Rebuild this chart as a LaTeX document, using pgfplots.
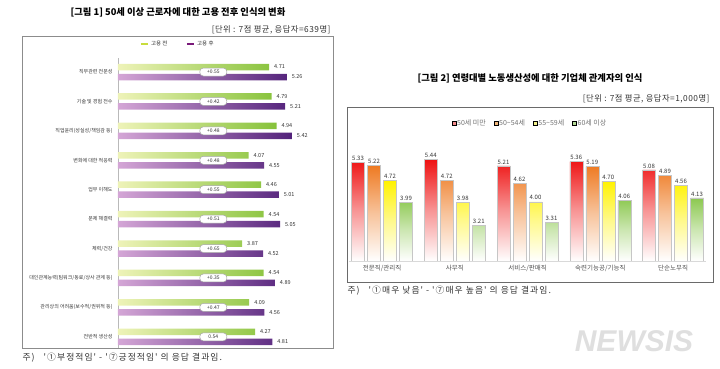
\documentclass[border=0pt]{standalone}
\usepackage{fontspec}
\setmainfont{Noto Sans CJK KR}
\newfontfamily\spaced[LetterSpace=6]{Noto Sans CJK KR}
\newfontfamily\spacedw[LetterSpace=12]{Noto Sans CJK KR}
\newfontfamily\wmfont{Liberation Sans}
\usepackage{pgfplots}
\pgfplotsset{compat=1.18}
\usepackage{pgfplotstable}

\definecolor{txt}{HTML}{333333}
\definecolor{boxA}{HTML}{8C8C8C}
\definecolor{boxB}{HTML}{6A6A6A}
\definecolor{gL}{HTML}{EEF3B8}
\definecolor{gR}{HTML}{86C23A}
\definecolor{pL}{HTML}{D4A6D6}
\definecolor{pR}{HTML}{52217A}
\definecolor{gLeg}{HTML}{C8DC3C}
\definecolor{pLeg}{HTML}{7A1A7A}
\definecolor{cR}{HTML}{EE1111}
\definecolor{cO}{HTML}{EE7A22}
\definecolor{cY}{HTML}{FFF200}
\definecolor{cG}{HTML}{8CC850}
\definecolor{lR}{HTML}{F28A8A}
\definecolor{lO}{HTML}{F2B77A}
\definecolor{lY}{HTML}{F2F08A}
\definecolor{lG}{HTML}{B4DA96}

\pgfplotstableread{
y before after diff
9 4.71 5.26 +0.55
8 4.79 5.21 +0.42
7 4.94 5.42 +0.48
6 4.07 4.55 +0.48
5 4.46 5.01 +0.55
4 4.54 5.05 +0.51
3 3.87 4.52 +0.65
2 4.54 4.89 +0.35
1 4.09 4.56 +0.47
0 4.27 4.81 0.54
}\tableA

\pgfplotstableread{
x a b c d
0 5.33 5.22 4.72 3.99
1 5.44 4.72 3.98 3.21
2 5.21 4.62 4.00 3.31
3 5.36 5.19 4.70 4.06
4 5.08 4.89 4.56 4.13
}\tableB

\begin{document}
\begin{tikzpicture}
\useasboundingbox (0pt,0pt) rectangle (720pt,369pt);

% ---------- chart 1 frame and texts ----------
\draw[color=boxA, line width=0.8pt] (22pt,21pt) rectangle (333pt,333pt);
\node[font=\bfseries\fontsize{9.3}{10}\selectfont, text=black] at (178pt,357pt) {[그림 1] 50세 이상 근로자에 대한 고용 전후 인식의 변화};
\node[anchor=east, font=\spaced\fontsize{8.3}{9}\selectfont, text=txt] at (334pt,339pt) {[단위 : 7점 평균, 응답자=639명]};
\node[anchor=west, font=\spacedw\fontsize{8.8}{9}\selectfont, text=txt] at (19pt,11pt) {주) \ \ '①부정적임' - '⑦긍정적임' 의 응답 결과임.};

% ---------- chart 2 frame and texts ----------
\draw[color=boxB, line width=1pt] (347pt,86pt) rectangle (713pt,261pt);
\node[font=\bfseries\fontsize{9.3}{10}\selectfont, text=black] at (530pt,291pt) {[그림 2] 연령대별 노동생산성에 대한 기업체 관계자의 인식};
\node[anchor=east, font=\spaced\fontsize{8.3}{9}\selectfont, text=txt] at (713pt,270pt) {[단위 : 7점 평균, 응답자=1,000명]};
\node[anchor=west, font=\spacedw\fontsize{8.8}{9}\selectfont, text=txt] at (344pt,78pt) {주) \ \ '①매우 낮음' - '⑦매우 높음' 의 응답 결과임.};

% watermark
\node[font=\wmfont\bfseries\itshape\fontsize{30}{30}\selectfont, text=gray!25] at (634pt,28pt) {NEWSIS};

% ---------- chart 1 ----------
\begin{axis}[
  at={(118pt,21pt)}, anchor=south west, scale only axis,
  width=215pt, height=290pt,
  xmin=0, xmax=6.7, ymin=-0.38, ymax=9.476,
  axis x line=none, axis y line=left,
  y axis line style={-, draw=gray!55, line width=0.6pt},
  ytick={0,...,9},
  yticklabels={전반적 생산성, 관리상의 어려움(보수적/권위적 등), 대인관계능력(팀워크/동료/상사 관계 등), 체력/건강, 문제 해결력, 업무 이해도, 변화에 대한 적응력, 직업윤리(성실성/책임감 등), 기술 및 경험 전수, 직무관련 전문성},
  yticklabel style={font=\fontsize{5}{6}\selectfont, text=txt, xshift=-2pt},
  major tick length=0pt,
  /pgf/number format/.cd, fixed, fixed zerofill, precision=2, assume math mode=true,
  /pgfplots/.cd,
  legend style={at={(axis description cs:0.277,1)}, anchor=center, yshift=14pt,
    draw=none, fill=none, legend columns=2,
    font=\fontsize{5.5}{6}\selectfont, text=txt,
    /tikz/every even column/.append style={column sep=16pt}},
  legend image code/.code={\draw[#1] (0pt,0pt) -- (7pt,0pt);},
]
\addlegendimage{draw=gLeg, line width=2.6pt}
\addlegendentry{고용 전}
\addlegendimage{draw=pLeg, line width=2.6pt}
\addlegendentry{고용 후}

\addplot[xbar, bar width=6.5pt, bar shift=5pt, draw=none, left color=gL, right color=gR,
  nodes near coords, every node near coord/.append style={font=\fontsize{5.5}{6}\selectfont, text=txt, anchor=west, xshift=1.5pt, yshift=5pt},
  forget plot] table[x=before, y=y] {\tableA};
\addplot[xbar, bar width=6.5pt, bar shift=-5pt, draw=none, left color=pL, right color=pR,
  nodes near coords, every node near coord/.append style={font=\fontsize{5.5}{6}\selectfont, text=txt, anchor=west, xshift=1.5pt, yshift=-5pt},
  forget plot] table[x=after, y=y] {\tableA};
\addplot[draw=none, mark=none, forget plot, point meta=explicit symbolic,
  nodes near coords={\pgfplotspointmeta},
  every node near coord/.style={anchor=center, draw=gray!70, fill=white, rounded corners=3.5pt,
    minimum width=27pt, minimum height=8pt, inner sep=0.8pt, font=\fontsize{5}{6}\selectfont, text=txt, line width=0.5pt}]
  table[x expr=2.97, y=y, meta=diff] {\tableA};
\end{axis}

% ---------- chart 2 ----------
\begin{axis}[
  at={(349.3pt,108pt)}, anchor=south west, scale only axis,
  width=356.5pt, height=118.4pt,
  xmin=-0.45, xmax=4.45, ymin=0, ymax=4,
  axis y line=none, axis x line=bottom,
  x axis line style={-, draw=gray!30, line width=0.6pt},
  xtick={0,...,4},
  xticklabels={전문직/관리직, 사무직, 서비스/판매직, 숙련기능공/기능직, 단순노무직},
  xticklabel style={font=\fontsize{6.5}{7}\selectfont, text=txt!85, yshift=-1pt},
  major tick length=0pt,
  /pgf/number format/.cd, fixed, fixed zerofill, precision=2, assume math mode=true,
  /pgfplots/.cd,
  every node near coord/.append style={font=\fontsize{6}{7}\selectfont, text=txt, inner sep=1.5pt, anchor=south},
  legend style={at={(axis description cs:0.507,1)}, anchor=center, yshift=19.6pt,
    draw=none, fill=none, legend columns=4,
    font=\fontsize{7}{8}\selectfont, text=gray!90!black,
    /tikz/every even column/.append style={column sep=6pt},
    /tikz/every odd column/.append style={column sep=-1pt}},
  legend image code/.code={\fill[#1] (0pt,-2pt) rectangle (4pt,2pt);},
]
\addlegendimage{fill=lR}\addlegendentry{50세 미만}
\addlegendimage{fill=lO}\addlegendentry{50\textasciitilde54세}
\addlegendimage{fill=lY}\addlegendentry{55\textasciitilde59세}
\addlegendimage{fill=lG}\addlegendentry{60세 이상}

\addplot[ybar, bar width=13pt, bar shift=-24pt, draw=gray!45, line width=0.5pt,
  top color=cR, bottom color=white, middle color=cR!45!white,
  nodes near coords, every node near coord/.append style={xshift=-24pt},
  point meta=explicit, forget plot]
  table[x=x, y expr=\thisrow{a}-2, meta=a] {\tableB};
\addplot[ybar, bar width=13pt, bar shift=-8pt, draw=gray!45, line width=0.5pt,
  top color=cO, bottom color=white, middle color=cO!45!white,
  nodes near coords, every node near coord/.append style={xshift=-8pt},
  point meta=explicit, forget plot]
  table[x=x, y expr=\thisrow{b}-2, meta=b] {\tableB};
\addplot[ybar, bar width=13pt, bar shift=8pt, draw=gray!45, line width=0.5pt,
  top color=cY, bottom color=white, middle color=cY!45!white,
  nodes near coords, every node near coord/.append style={xshift=8pt},
  point meta=explicit, forget plot]
  table[x=x, y expr=\thisrow{c}-2, meta=c] {\tableB};
\addplot[ybar, bar width=13pt, bar shift=24pt, draw=gray!45, line width=0.5pt,
  top color=cG, bottom color=white, middle color=cG!45!white,
  nodes near coords, every node near coord/.append style={xshift=24pt},
  point meta=explicit, forget plot]
  table[x=x, y expr=\thisrow{d}-2, meta=d] {\tableB};
\end{axis}
\end{tikzpicture}
\end{document}
